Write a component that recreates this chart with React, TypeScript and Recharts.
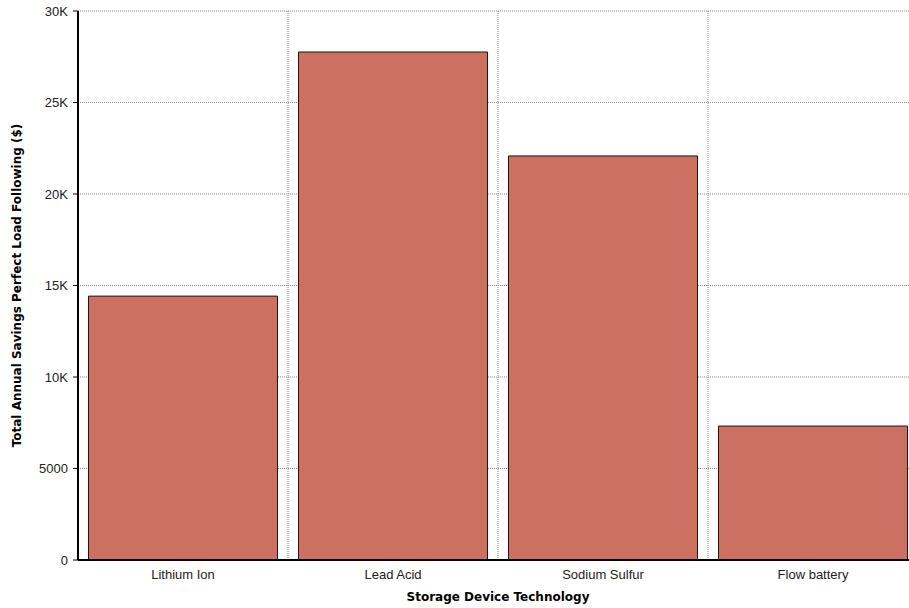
import React from 'react'
import { BarChart, Bar, XAxis, YAxis, CartesianGrid } from 'recharts'

const technologies = ['Lithium Ion', 'Lead Acid', 'Sodium Sulfur', 'Flow battery']
const savings = [14420, 27760, 22080, 7320]
const yTicks = [0, 5000, 10000, 15000, 20000, 25000, 30000]
const boundaryTicks = [0, 1, 2, 3, 4]

const data = technologies.map((name, i) => ({ name, savings: savings[i] }))

const fmtY = (v: number) => (v >= 10000 ? `${v / 1000}K` : `${v}`)

const font = 'Arial, "Liberation Sans", sans-serif'
const titleFont = '"DejaVu Sans", Verdana, sans-serif'

export default function App() {
  return (
    <div style={{ position: 'absolute', left: 0, top: 0, width: 909, height: 608, overflow: 'hidden', background: '#fff', fontFamily: font }}>
      <BarChart
        width={930}
        height={608}
        data={data}
        margin={{ top: 11, right: 12, left: 0, bottom: 0 }}
        barCategoryGap="5%"
      >
        <CartesianGrid
          stroke="#888"
          strokeDasharray="1 1"
          verticalCoordinatesGenerator={({ offset }: any) => {
            const w = offset.width / technologies.length
            return [1, 2, 3].map((k) => offset.left + k * w)
          }}
        />
        <XAxis
          xAxisId="edges"
          type="number"
          domain={[0, 4]}
          ticks={boundaryTicks}
          height={0}
          axisLine={false}
          tick={false}
          tickLine={{ stroke: '#000' }}
          tickSize={5}
        />
        <XAxis
          dataKey="name"
          height={48}
          tickLine={false}
          axisLine={{ stroke: '#000', strokeWidth: 2 }}
          tick={{ fill: '#222', fontSize: 13, fontFamily: font }}
          tickMargin={4}
          label={{ value: 'Storage Device Technology', position: 'insideBottom', offset: 7, style: { fontWeight: 'bold', fontSize: 12, fill: '#000', fontFamily: titleFont } }}
        />
        <YAxis
          width={78}
          domain={[0, 30000]}
          ticks={yTicks}
          tickFormatter={fmtY}
          axisLine={{ stroke: '#000', strokeWidth: 2 }}
          tickLine={{ stroke: '#000' }}
          tickSize={5}
          tickMargin={5}
          tick={{ fill: '#222', fontSize: 13, fontFamily: font }}
          label={{ value: 'Total Annual Savings Perfect Load Following ($)', angle: -90, position: 'insideLeft', offset: 17, style: { textAnchor: 'middle', fontWeight: 'bold', fontSize: 12, fill: '#000', fontFamily: titleFont } }}
        />
        <Bar dataKey="savings" fill="#CC7062" stroke="#2a1210" strokeWidth={1} isAnimationActive={false} />
      </BarChart>
    </div>
  )
}
